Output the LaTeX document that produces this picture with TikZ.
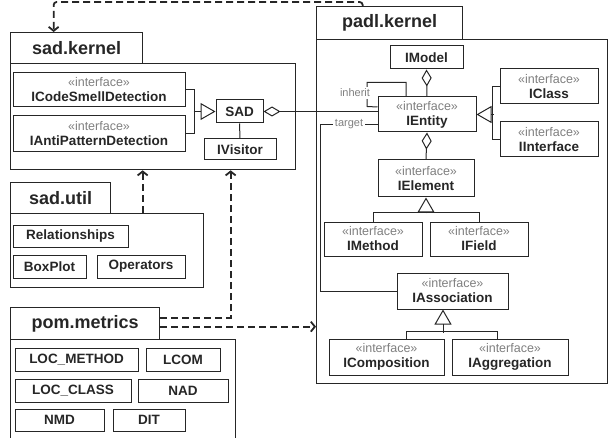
\documentclass[tikz,border=0pt]{standalone}
\usepackage{fontspec}
\setmainfont{Liberation Sans}
\usetikzlibrary{arrows.meta}
\newcommand{\stereo}{{\fontsize{12.5}{13}\selectfont\mdseries\color{black!50}«interface»}}
\tikzset{
  pkgtab/.style={draw, anchor=north west, font=\fontsize{18}{20}\selectfont\bfseries, line width=1.3pt, inner sep=0pt},
  pkgbody/.style={draw, anchor=north west, line width=1.3pt, inner sep=0pt},
  cls/.style={draw, fill=white, font=\fontsize{13.5}{15}\selectfont\bfseries, align=center, inner sep=0pt, line width=1pt},
  gen/.style={-{Triangle[open,length=15pt,width=17pt]}},
  agg/.style={{Diamond[open,length=17pt,width=10pt]}-},
  dep/.style={dash pattern=on 7pt off 4pt, line width=1.8pt, -{Straight Barb[length=4pt,width=10pt]}},
  lbl/.style={font=\fontsize{11}{12}\selectfont, text=black!50, fill=white, inner sep=2pt}
}
\begin{document}
\begin{tikzpicture}[x=1pt, y=-1pt, line width=1pt, color=black!85]
\useasboundingbox (0,0) rectangle (612,438);
\node[pkgtab, minimum width=132pt, minimum height=31pt] (sadktab) at (10,32) {sad.kernel};
\node[pkgbody, minimum width=285pt, minimum height=106pt] (sadkbody) at (10,63) {};
\node[pkgtab, minimum width=146pt, minimum height=33pt] (padltab) at (316,6) {padl.kernel};
\node[pkgbody, minimum width=291pt, minimum height=344pt] (padlbody) at (316,39) {};
\node[pkgtab, minimum width=100pt, minimum height=31pt] (sadutiltab) at (10,182) {sad.util};
\node[pkgbody, minimum width=193pt, minimum height=74pt] (sadutilbody) at (10,213) {};
\node[pkgtab, minimum width=149pt, minimum height=32pt] (pomtab) at (10,307) {pom.metrics};
\node[pkgbody, minimum width=225pt, minimum height=105pt] (pombody) at (10,339) {};
\node[cls, minimum width=172pt, minimum height=34pt] (csd) at (99,90) {\stereo\\ICodeSmellDetection};
\node[cls, minimum width=172pt, minimum height=36pt] (apd) at (99,134) {\stereo\\IAntiPatternDetection};
\node[cls, minimum width=47pt, minimum height=23pt] (sad) at (239.5,111.5) {SAD};
\node[cls, minimum width=72pt, minimum height=21pt] (ivis) at (240,149.5) {IVisitor};
\node[cls, minimum width=73pt, minimum height=23pt] (imodel) at (426.5,57.5) {IModel};
\node[cls, minimum width=98pt, minimum height=35pt] (ientity) at (427,114.5) {\stereo\\IEntity};
\node[cls, minimum width=98pt, minimum height=35pt] (iclass) at (549,86.5) {\stereo\\IClass};
\node[cls, minimum width=98pt, minimum height=35pt] (iinterface) at (549,139.5) {\stereo\\IInterface};
\node[cls, minimum width=96pt, minimum height=37pt] (ielement) at (426,178.5) {\stereo\\IElement};
\node[cls, minimum width=98pt, minimum height=34pt] (imethod) at (373,239) {\stereo\\IMethod};
\node[cls, minimum width=98pt, minimum height=34pt] (ifield) at (479,239) {\stereo\\IField};
\node[cls, minimum width=111pt, minimum height=36pt] (iassoc) at (452.5,291) {\stereo\\IAssociation};
\node[cls, minimum width=115pt, minimum height=36pt] (icomp) at (386.5,357) {\stereo\\IComposition};
\node[cls, minimum width=116pt, minimum height=36pt] (iaggr) at (510,357) {\stereo\\IAggregation};
\node[cls, minimum width=115pt, minimum height=22pt] (relationships) at (70.5,236) {Relationships};
\node[cls, minimum width=73pt, minimum height=23pt] (boxplot) at (49.5,266.5) {BoxPlot};
\node[cls, minimum width=88pt, minimum height=23pt] (operators) at (141,266.5) {Operators};
\node[cls, minimum width=123pt, minimum height=23pt] (locm) at (76.5,359.5) {LOC\_METHOD};
\node[cls, minimum width=74pt, minimum height=23pt] (lcom) at (183,359.5) {LCOM};
\node[cls, minimum width=116pt, minimum height=23pt] (locc) at (73,390.5) {LOC\_CLASS};
\node[cls, minimum width=90pt, minimum height=23pt] (nad) at (183,390.5) {NAD};
\node[cls, minimum width=89pt, minimum height=22pt] (nmd) at (59.5,420) {NMD};
\node[cls, minimum width=72pt, minimum height=22pt] (dit) at (149,420) {DIT};
\draw[](csd.east) -- ++(9,0) |- (apd.east);
\draw[gen]([xshift=-22pt]sad.west) -- (sad.west);
\draw[](sad.south) -- (ivis.north);
\draw[agg](sad.east) -- (sad.east -| ientity.west);
\draw[agg](imodel.south) -- (ientity.north);
\draw[]([xshift=-21pt]ientity.north) -- ++(0,-14) -| ++(-39,24) -- ([yshift=7.5pt]ientity.west);
\node[lbl] (inherit) at (355,93) {inherit};
\draw[](iassoc.west) -| ([xshift=-57pt,yshift=-10pt]ientity.west) -- node[lbl]{target} ([yshift=-10pt]ientity.west);
\draw[](iclass.west) -- ++(-7,0) |- (iinterface.west);
\draw[gen]([xshift=17pt]ientity.east) -- (ientity.east);
\draw[agg](ientity.south) -- (ielement.north);
\draw[](imethod.north) -- ++(0,-9) -| (ifield.north);
\draw[gen]([yshift=-16pt]ielement.south) -- (ielement.south);
\draw[]([xshift=19.5pt]icomp.north) -- ++(0,-7) -| ([xshift=-13pt]iaggr.north);
\draw[gen]([xshift=-9.5pt,yshift=-23pt]iassoc.south) -- ([xshift=-9.5pt]iassoc.south);
\draw[dep, rounded corners=3pt]([xshift=-27pt]padltab.north) -- ++(0,-4) -| ([xshift=-23pt]sadktab.north);
\draw[dep]([xshift=35.5pt]sadutilbody.north) -- ([xshift=35.5pt]sadutilbody.north |- sadkbody.south);
\draw[dep]([yshift=6pt]pomtab.east) -| ([xshift=77.5pt]sadkbody.south);
\draw[dep]([yshift=-3pt]pomtab.east) -- ([yshift=-3pt]pomtab.east -| padlbody.west);
\end{tikzpicture}
\end{document}
